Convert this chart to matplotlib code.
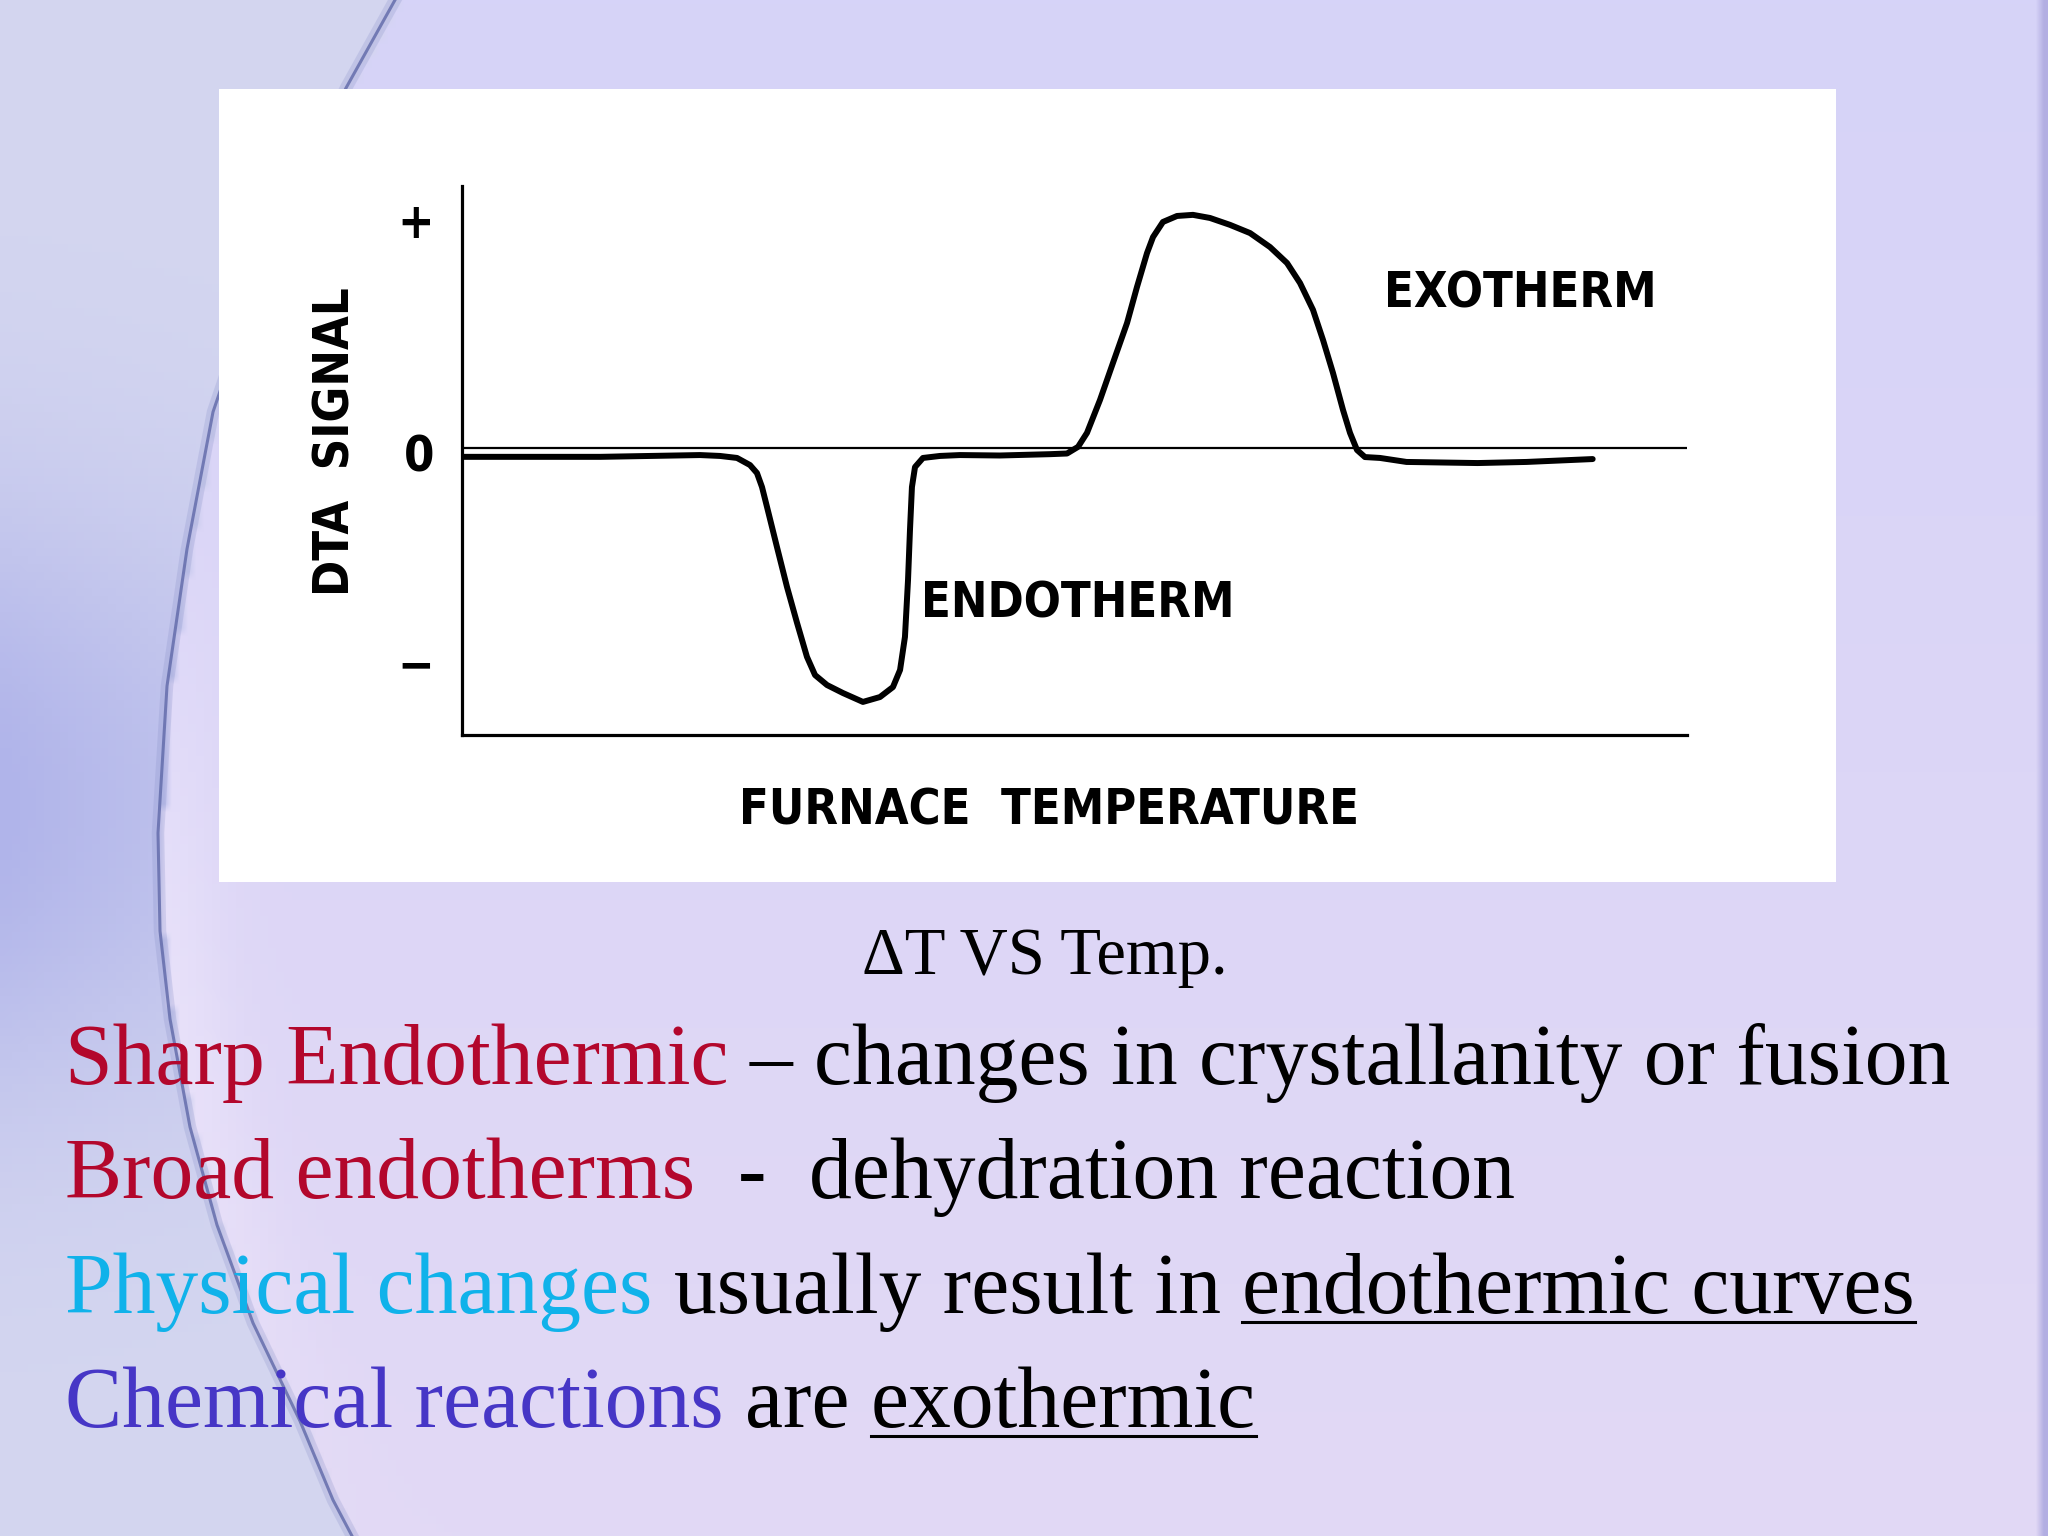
import numpy as np
import matplotlib
matplotlib.use("Agg")
import matplotlib.pyplot as plt
from matplotlib.patches import Rectangle
from matplotlib import font_manager

# DTA curve
# temp: position along the furnace-temperature axis (0 = y axis, 100 = end of x axis)
# signal: DTA signal, + tick = 1, - tick = -1
temp = [0, 11.3, 19.43, 21.06, 22.45, 23.51, 24.08, 24.49, 24.90, 25.71, 26.53, 27.35,
        28.16, 28.82, 29.80, 31.10, 32.73, 34.12, 35.18, 35.76, 36.16, 36.41, 36.57,
        36.73, 36.98, 37.63, 39.02, 40.65, 43.9, 48.0, 49.39, 50.29, 51.02, 52.08,
        53.14, 54.29, 55.10, 55.92, 56.41, 57.22, 58.37, 59.67, 61.06, 62.69, 64.33,
        65.96, 67.35, 68.41, 69.47, 70.29, 71.10, 71.92, 72.49, 73.06, 73.71, 74.94,
        77.1, 82.9, 86.9, 92.3]
signal = [-0.04, -0.04, -0.032, -0.036, -0.045, -0.077, -0.113, -0.176, -0.266, -0.446,
          -0.626, -0.788, -0.941, -1.023, -1.068, -1.104, -1.144, -1.122, -1.077, -1.000,
          -0.851, -0.595, -0.369, -0.176, -0.086, -0.045, -0.036, -0.032, -0.034, -0.028,
          -0.025, 0.005, 0.068, 0.216, 0.383, 0.563, 0.725, 0.878, 0.950, 1.018, 1.045,
          1.050, 1.036, 1.005, 0.968, 0.905, 0.833, 0.743, 0.622, 0.486, 0.338, 0.171,
          0.068, -0.009, -0.041, -0.045, -0.063, -0.068, -0.063, -0.05]

tick_pos = [1.03, -0.02, -0.96]
tick_txt = ["+", "0", "\u2212"]
xlabel = "FURNACE  TEMPERATURE"
ylabel = "DTA  SIGNAL"
caption = "\u0394T VS Temp."

RED = "#b3072c"
CYAN = "#10b2ea"
BLUE = "#4636c6"
BLACK = "#000000"

# slide lines: (text, colour, underline, spaces before)
lines = [
    [("Sharp Endothermic", RED, False, 0), ("\u2013", BLACK, False, 1),
     ("changes in crystallanity or fusion", BLACK, False, 1)],
    [("Broad endotherms", RED, False, 0), ("-", BLACK, False, 2),
     ("dehydration reaction", BLACK, False, 2)],
    [("Physical changes", CYAN, False, 0), ("usually result in", BLACK, False, 1),
     ("endothermic curves", BLACK, True, 1)],
    [("Chemical reactions", BLUE, False, 0), ("are", BLACK, False, 1),
     ("exothermic", BLACK, True, 1)],
]
baselines = [1084, 1198, 1313, 1427]

SERIF = ["Liberation Serif", "DejaVu Serif"]
lab = font_manager.FontProperties(family="DejaVu Sans", weight="bold", stretch="condensed")
if "Condensed" in font_manager.findfont(lab):
    LSIZE = 35
else:
    LSIZE = 30
lab.set_size(LSIZE)

fig = plt.figure(figsize=(20.48, 15.36), dpi=100)

# background slide
bg = fig.add_axes([0, 0, 1, 1])
bg.set_xlim(0, 2048)
bg.set_ylim(1536, 0)
bg.axis("off")

sy = [0, 88, 250, 412, 549, 686, 833, 931, 1019, 1127, 1225, 1323, 1421, 1500, 1536]
sx = [395, 346, 268, 213, 187, 167, 158, 160, 170, 190, 217, 253, 300, 333, 352]

H, W = 192, 256
yy, xx = np.mgrid[0:H, 0:W]
X = xx * 2048 / W
Y = yy * 1536 / H
img = np.zeros((H, W, 3))
img[..., 0] = 214 + 12 * Y / 1536
img[..., 1] = 211 + 6 * Y / 1536
img[..., 2] = 248 - 3 * Y / 1536
cx = np.interp(Y, sy, sx)
left = X < cx
d = np.exp(-((Y - 800) / 300) ** 2) * np.clip(1 - X / 450, 0, 1)
lc = np.stack([212 - 36 * d, 214 - 34 * d, 240 - 6 * d], axis=-1)
img[left] = lc[left]
hl = np.exp(-((X - cx) / 60) ** 2) * (~left) * np.exp(-((Y - 1000) / 350) ** 2)
img[..., 0] += 10 * hl
img[..., 1] += 10 * hl
img[..., 2] += 4 * hl
img[X > 2036] = [178, 174, 226]
bg.imshow(np.clip(img, 0, 255).astype(np.uint8), extent=(0, 2048, 1536, 0),
          aspect="auto", interpolation="bilinear", zorder=0)
bg.plot(sx, sy, color="#8890c8", lw=9, alpha=0.25, zorder=1)
bg.plot(sx, sy, color="#5f68a8", lw=2.2, alpha=0.8, zorder=1)

# white picture frame
bg.add_patch(Rectangle((219, 89), 1617, 793, fc="white", ec="none", zorder=2))

# the DTA chart
ax = fig.add_axes([462 / 2048, 1 - 735 / 1536, 1225 / 2048, 549 / 1536])
ax.set_facecolor("none")
ax.plot(temp, signal, color="black", lw=4.3, solid_joinstyle="round", solid_capstyle="round")
ax.axhline(0, color="black", lw=1.6)
ax.set_xlim(0, 100)
ax.set_ylim(-1.293, 1.180)
for s in ["top", "right"]:
    ax.spines[s].set_visible(False)
for s in ["left", "bottom"]:
    ax.spines[s].set_linewidth(2.3)
ax.set_xticks([])
ax.set_yticks(tick_pos, labels=tick_txt, fontproperties=lab)
ax.tick_params(axis="y", length=0, pad=20)
ax.set_xlabel(xlabel, fontproperties=lab)
ax.xaxis.set_label_coords(0.479, -0.093)
ax.set_ylabel(ylabel, fontproperties=lab)
ax.yaxis.set_label_coords(-0.084, 0.534)
ax.text(75.3, 0.694, "EXOTHERM", fontproperties=lab, va="center")
ax.text(37.5, -0.70, "ENDOTHERM", fontproperties=lab, va="center")

# caption and bullet text
bg.text(1045, 974, caption, fontsize=48, family=SERIF, ha="center", va="baseline", zorder=3)

renderer = fig.canvas.get_renderer()


def width(s, size):
    t = bg.text(0, 0, s, fontsize=size, family=SERIF)
    w = t.get_window_extent(renderer).width
    t.remove()
    return w


line1 = "Sharp Endothermic \u2013 changes in crystallanity or fusion"
size = 60 * 1886 / width(line1, 60)
space = width("a a", size) - width("aa", size)

for segs, base in zip(lines, baselines):
    x = 65
    for text, color, under, gap in segs:
        x += gap * space
        bg.text(x, base, text, fontsize=size, family=SERIF, color=color,
                ha="left", va="baseline", zorder=3)
        w = width(text, size)
        if under:
            bg.plot([x, x + w], [base + 9, base + 9], color=color, lw=2.2, zorder=3)
        x += w

fig.savefig("out.png", dpi=100)
